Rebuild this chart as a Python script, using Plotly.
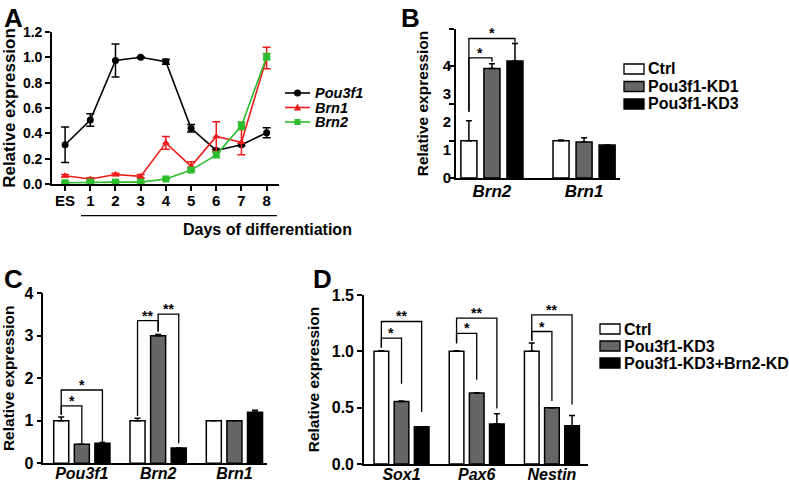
import plotly.graph_objects as go

# ---- data -------------------------------------------------------------
days = ["ES", "1", "2", "3", "4", "5", "6", "7", "8"]
pou3f1 = [0.31, 0.505, 0.975, 1.0, 0.965, 0.44, 0.265, 0.31, 0.405]
pou3f1_err = [0.14, 0.05, 0.13, 0.005, 0.02, 0.03, 0.01, 0.01, 0.04]
brn1 = [0.065, 0.04, 0.075, 0.06, 0.325, 0.14, 0.375, 0.33, 0.995]
brn1_err = [0.01, 0.01, 0.01, 0.015, 0.05, 0.035, 0.117, 0.1, 0.085]
brn2 = [0.01, 0.015, 0.015, 0.015, 0.04, 0.11, 0.23, 0.46, 1.005]
brn2_err = [0.005, 0.005, 0.005, 0.005, 0.005, 0.01, 0.02, 0.03, 0.025]

b_genes = ["Brn2", "Brn1"]
b_ctrl = [1.0, 1.0]
b_ctrl_err = [0.54, 0.02]
b_kd1 = [2.94, 0.965]
b_kd1_err = [0.13, 0.115]
b_kd3 = [3.14, 0.885]
b_kd3_err = [0.47, 0.0]
b_ticklabels = ["0", "1", "2", "3", "4"]

c_genes = ["Pou3f1", "Brn2", "Brn1"]
c_ctrl = [1.0, 1.0, 1.0]
c_ctrl_err = [0.09, 0.06, 0.0]
c_kd1 = [0.45, 3.0, 1.0]
c_kd1_err = [0.0, 0.03, 0.0]
c_kd3 = [0.47, 0.36, 1.2]
c_kd3_err = [0.02, 0.0, 0.05]

d_genes = ["Sox1", "Pax6", "Nestin"]
d_ctrl = [1.0, 1.0, 1.0]
d_ctrl_err = [0.005, 0.005, 0.075]
d_kd3 = [0.555, 0.63, 0.5]
d_kd3_err = [0.005, 0.003, 0.0]
d_dbl = [0.33, 0.355, 0.34]
d_dbl_err = [0.0, 0.09, 0.09]

# significance brackets: (gene index, from bar, to bar, level, left leg end, right leg end, label)
b_sig = [(0, 0, 1, 3.225, 1.78, 3.12, "*"), (0, 0, 2, 3.745, 1.78, 3.63, "*")]
c_sig = [(0, 0, 1, 1.35, 1.14, 0.47, "*"), (0, 0, 2, 1.725, 1.14, 0.5, "*"),
         (1, 0, 1, 3.355, 1.11, 3.1, "**"), (1, 1, 2, 3.51, 3.1, 0.47, "**")]
d_sig = [(0, 0, 1, 1.118, 1.035, 0.712, "*"), (0, 0, 2, 1.265, 1.035, 0.462, "**"),
         (1, 0, 1, 1.159, 1.071, 0.748, "*"), (1, 0, 2, 1.295, 1.071, 0.492, "**"),
         (2, 0, 1, 1.176, 1.094, 0.559, "*"), (2, 0, 2, 1.324, 1.094, 0.527, "**")]

# ---- layout helpers ---------------------------------------------------
W, H = 789, 483
FONT = "Arial, Liberation Sans, Helvetica, sans-serif"


def px(x):
    return x / W


def py(y):
    return 1 - y / H


def font(size, **kw):
    return dict(family=FONT, size=size, color="black", weight="bold", **kw)


fig = go.Figure()

# ---- panel A: time course ---------------------------------------------
xs = list(range(len(days)))
a_series = [
    ("Pou3f1", pou3f1, pou3f1_err, "black", "circle"),
    ("Brn1", brn1, brn1_err, "#ee1c1c", "triangle-up"),
    ("Brn2", brn2, brn2_err, "#2ebd2e", "square"),
]
for name, vals, errs, color, symbol in a_series:
    fig.add_trace(go.Scatter(
        x=xs, y=vals, name=name, mode="lines+markers", showlegend=False,
        line=dict(color=color, width=1.6),
        marker=dict(color=color, symbol=symbol, size=7),
        error_y=dict(type="data", array=errs, color=color, thickness=1.5, width=4),
        xaxis="x", yaxis="y",
    ))


# ---- bar panels -------------------------------------------------------
def add_bars(series, xa, ya, offset, width):
    n = len(series)
    for k, (name, vals, errs, fill) in enumerate(series):
        fig.add_trace(go.Bar(
            x=[i + (k - (n - 1) / 2) * offset for i in range(len(vals))], y=vals,
            width=width, name=name, showlegend=False,
            marker=dict(color=fill, line=dict(color="black", width=1.5)),
            error_y=dict(type="data", symmetric=False, array=errs, arrayminus=[0] * len(errs),
                         color="black", thickness=1.5, width=3),
            xaxis=xa, yaxis=ya,
        ))


def add_brackets(sig, xref, yref, offset, n):
    for gi, a, b, level, ya, yb, label in sig:
        xa = gi + (a - (n - 1) / 2) * offset
        xb = gi + (b - (n - 1) / 2) * offset
        fig.add_shape(type="path", xref=xref, yref=yref,
                      path="M %f,%f L %f,%f L %f,%f L %f,%f" % (xa, ya, xa, level, xb, level, xb, yb),
                      line=dict(color="black", width=1.3))
        fig.add_annotation(x=(xa + xb) / 2, y=level, xref=xref, yref=yref, text=label,
                           showarrow=False, yanchor="bottom", yshift=-5, font=font(14))


def bar_legend(entries, x0, y0, dy):
    # legend drawn by hand so the rows sit as tight as in the reference
    for i, (name, fill) in enumerate(entries):
        y = y0 + i * dy
        fig.add_shape(type="rect", xref="paper", yref="paper",
                      x0=px(x0), x1=px(x0 + 20), y0=py(y + 5), y1=py(y - 5),
                      fillcolor=fill, line=dict(color="black", width=1.3))
        fig.add_annotation(x=px(x0 + 22), y=py(y), xref="paper", yref="paper", text=name,
                           showarrow=False, xanchor="left", yanchor="middle", height=dy,
                           font=font(16))


b_series = [("Ctrl", b_ctrl, b_ctrl_err, "white"),
            ("Pou3f1-KD1", b_kd1, b_kd1_err, "#666666"),
            ("Pou3f1-KD3", b_kd3, b_kd3_err, "black")]
add_bars(b_series, "x2", "y2", 0.25, 0.174)
add_brackets(b_sig, "x2", "y2", 0.25, 3)
bar_legend([(s[0], s[3]) for s in b_series], 624, 69, 17.5)
# carrier for the relabelled B axis
fig.add_trace(go.Scatter(x=[None], y=[None], xaxis="x2", yaxis="y5", showlegend=False, hoverinfo="skip"))

c_series = [("Ctrl", c_ctrl, c_ctrl_err, "white"),
            ("Pou3f1-KD1", c_kd1, c_kd1_err, "#666666"),
            ("Pou3f1-KD3", c_kd3, c_kd3_err, "black")]
add_bars(c_series, "x3", "y3", 0.27, 0.197)
add_brackets(c_sig, "x3", "y3", 0.27, 3)

d_series = [("Ctrl", d_ctrl, d_ctrl_err, "white"),
            ("Pou3f1-KD3", d_kd3, d_kd3_err, "#666666"),
            ("Pou3f1-KD3+Brn2-KD", d_dbl, d_dbl_err, "black")]
add_bars(d_series, "x4", "y4", 0.268, 0.195)
add_brackets(d_sig, "x4", "y4", 0.268, 3)
bar_legend([(s[0], s[3]) for s in d_series], 600, 329, 17)

# legend of panel A
for i, (name, vals, errs, color, symbol) in enumerate(a_series):
    y = 93 + i * 14.5
    fig.add_shape(type="line", xref="paper", yref="paper", x0=px(285), x1=px(310), y0=py(y), y1=py(y),
                  line=dict(color=color, width=1.6))
    if symbol == "circle":
        fig.add_shape(type="circle", xref="paper", yref="paper", x0=px(294), x1=px(301),
                      y0=py(y + 3.5), y1=py(y - 3.5), fillcolor=color, line=dict(color=color, width=0))
    elif symbol == "square":
        fig.add_shape(type="rect", xref="paper", yref="paper", x0=px(294.5), x1=px(300.5),
                      y0=py(y + 3), y1=py(y - 3), fillcolor=color, line=dict(color=color, width=0))
    else:
        fig.add_shape(type="path", xref="paper", yref="paper",
                      path="M %f,%f L %f,%f L %f,%f Z" % (px(294), py(y + 3), px(301), py(y + 3), px(297.5), py(y - 4)),
                      fillcolor=color, line=dict(color=color, width=0))
    fig.add_annotation(x=px(313), y=py(y), xref="paper", yref="paper", text="<i>%s</i>" % name,
                       showarrow=False, xanchor="left", yanchor="middle", height=14, font=font(14.5))

# ---- axes -------------------------------------------------------------
common = dict(showgrid=False, zeroline=False, showline=True, linecolor="black", linewidth=1.6,
              tickcolor="black", tickwidth=1.5, ticklen=5, automargin=False)

fig.update_layout(
    width=W, height=H, margin=dict(l=0, r=0, t=0, b=0),
    plot_bgcolor="white", paper_bgcolor="white",
    showlegend=False, barmode="overlay",
    xaxis=dict(common, domain=[px(52), px(279)], range=[-0.52, 8.49], anchor="y",
               tickvals=xs, ticktext=days, ticks="outside", tickfont=font(15), ticklabelstandoff=-3),
    yaxis=dict(common, domain=[py(184), py(32)], range=[0, 1.2], anchor="x",
               dtick=0.2, tickformat=".1f", ticks="outside", tickfont=font(14),
               title=dict(text="Relative expression", font=font(17), standoff=4)),
    xaxis2=dict(common, domain=[px(456), px(620)], range=[-0.39, 1.39], anchor="y2",
                tickvals=[0, 1], ticktext=["<i>%s</i>" % g for g in b_genes], ticks="",
                tickfont=font(17), ticklabelstandoff=-3),
    yaxis2=dict(common, domain=[py(178), py(29)], range=[0, 4], anchor="x2",
                dtick=1, ticks="outside", showticklabels=False),
    yaxis5=dict(common, domain=[py(178), py(29)], range=[0, 5.316], anchor="x2",
                overlaying="y2", showline=False, ticks="", tickfont=font(15),
                tickvals=list(range(len(b_ticklabels))), ticktext=b_ticklabels, ticklabelstandoff=4,
                title=dict(text="Relative expression", font=font(15.5), standoff=10)),
    xaxis3=dict(common, domain=[px(43.3), px(266.7)], range=[-0.505, 2.423], anchor="y3",
                tickvals=[0, 1, 2], ticktext=["<i>%s</i>" % g for g in c_genes], ticks="",
                tickfont=font(16), ticklabelstandoff=-5),
    yaxis3=dict(common, domain=[py(463.3), py(293.3)], range=[0, 4], anchor="x3",
                dtick=1, ticks="outside", tickfont=font(16),
                title=dict(text="Relative expression", font=font(15.5), standoff=8)),
    xaxis4=dict(common, domain=[px(364), px(588.3)], range=[-0.499, 2.484], anchor="y4",
                tickvals=[0, 1, 2], ticktext=["<i>%s</i>" % g for g in d_genes], ticks="",
                tickfont=font(16), ticklabelstandoff=-5),
    yaxis4=dict(common, domain=[py(464), py(295)], range=[0, 1.5], anchor="x4",
                dtick=0.5, tickformat=".1f", ticks="outside", tickfont=font(16),
                title=dict(text="Relative expression", font=font(15.5), standoff=8)),
)

# days bracket and panel letters
fig.add_shape(type="line", xref="paper", yref="paper", x0=px(81), x1=px(277), y0=py(215.7), y1=py(215.7),
              line=dict(color="black", width=1.3))
fig.add_annotation(x=px(181), y=py(229), xref="paper", yref="paper", text="Days of differentiation",
                   showarrow=False, font=font(16))
for letter, lx, ly in [("A", 2, 1), ("B", 399, 1), ("C", 2, 262), ("D", 311, 262)]:
    fig.add_annotation(x=px(lx), y=py(ly), xref="paper", yref="paper", text=letter,
                       showarrow=False, xanchor="left", yanchor="top", font=font(26))

# the page body has a default 8px margin; drop it so the figure fills the window
fig.write_html("out.html", config={"displayModeBar": False},
               post_script="document.body.style.margin='0';")
